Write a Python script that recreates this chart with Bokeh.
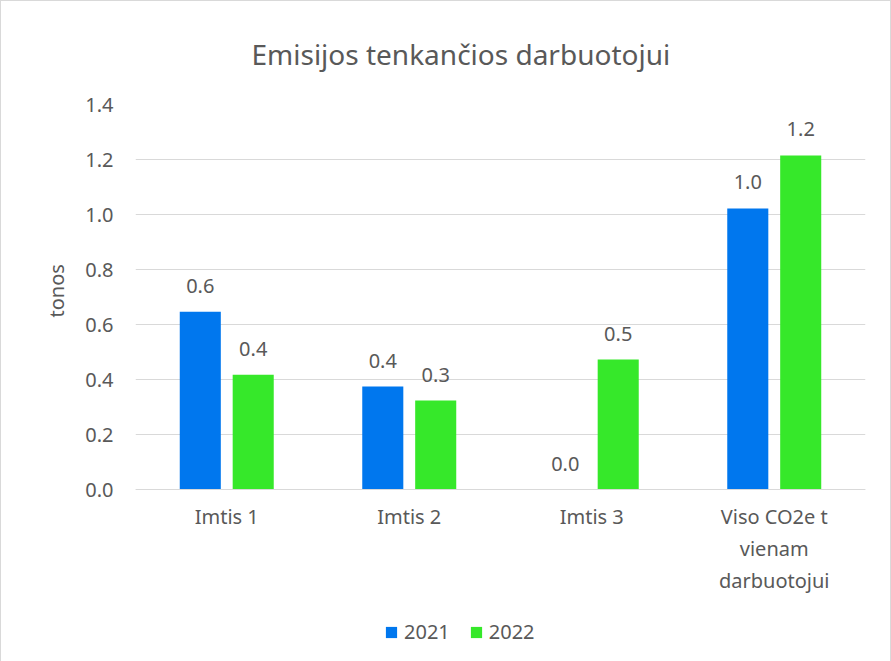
from bokeh.plotting import figure
from bokeh.models import ColumnDataSource, FactorRange, Legend, LegendItem, PrintfTickFormatter, LabelSet, Range1d, Title
from bokeh.core.properties import value
from bokeh.transform import dodge
from bokeh.embed import file_html
from bokeh.resources import INLINE

categories = ["Imtis 1", "Imtis 2", "Imtis 3", "Viso CO2e t\nvienam\ndarbuotojui"]
years = ["2021", "2022"]
values_2021 = [0.647, 0.375, 0.0, 1.022]
values_2022 = [0.418, 0.324, 0.473, 1.215]
y_ticks = [0.0, 0.2, 0.4, 0.6, 0.8, 1.0, 1.2, 1.4]

FONT = "Noto Sans"
GRAY = "#595959"
BLUE = "#0077EE"
GREEN = "#36E82A"
FS = "20px"

src = ColumnDataSource(dict(
    cat=categories,
    v2021=values_2021,
    v2022=values_2022,
    l2021=["%.1f" % v for v in values_2021],
    l2022=["%.1f" % v for v in values_2022],
))

# the frame reaches below zero so the legend can sit inside it, under the category labels
p = figure(x_range=FactorRange(factors=categories, range_padding=0),
           y_range=Range1d(-0.65, 1.4),
           frame_width=730, frame_height=564, output_backend="svg", toolbar_location=None,
           min_border_left=134, min_border_right=25, min_border_top=103, min_border_bottom=0)
p.styles = {"border": "1px solid #d9d9d9"}
p.outline_line_color = None
p.background_fill_color = "white"
p.border_fill_color = "white"

p.title.text = "Emisijos tenkančios darbuotojui"
p.title.align = "left"
p.title.offset = 116
p.title.text_font = FONT
p.title.text_font_size = "28px"
p.title.text_font_style = "normal"
p.title.text_color = GRAY
p.title.standoff = 63

r1 = p.vbar(x=dodge("cat", -0.145, range=p.x_range), top="v2021", width=0.225, source=src,
            fill_color=BLUE, line_color=None)
r2 = p.vbar(x=dodge("cat", 0.145, range=p.x_range), top="v2022", width=0.225, source=src,
            fill_color=GREEN, line_color=None)

for col, lab, off in (("v2021", "l2021", -0.145), ("v2022", "l2022", 0.145)):
    p.add_layout(LabelSet(x=dodge("cat", off, range=p.x_range), y=col, text=lab, source=src,
                          text_align="center", text_baseline="bottom", y_offset=19,
                          text_font=value(FONT), text_font_size=value(FS), text_color=GRAY))

p.yaxis.ticker = y_ticks
p.yaxis.formatter = PrintfTickFormatter(format="%.1f")
p.yaxis.axis_line_color = None
p.yaxis.major_tick_line_color = None
p.yaxis.major_tick_out = 0
p.yaxis.minor_tick_line_color = None
p.yaxis.major_label_standoff = 22
p.yaxis.major_label_text_font = FONT
p.yaxis.major_label_text_font_size = FS
p.yaxis.major_label_text_color = GRAY

ylab = Title(text="tonos", align="left", offset=351, standoff=25,
             text_font=FONT, text_font_size=FS, text_font_style="normal", text_color=GRAY)
p.add_layout(ylab, "left")

p.xaxis.fixed_location = 0
p.xaxis.axis_line_color = "#d9d9d9"
p.xaxis.major_tick_line_color = None
p.xaxis.major_tick_out = 0
p.xaxis.minor_tick_line_color = None
p.xaxis.major_label_standoff = 13
p.xaxis.major_label_text_font = FONT
p.xaxis.major_label_text_font_size = FS
p.xaxis.major_label_text_color = GRAY

p.xgrid.grid_line_color = None
p.ygrid.grid_line_color = "#d9d9d9"

legend = Legend(items=[LegendItem(label=years[0], renderers=[r1]),
                       LegendItem(label=years[1], renderers=[r2])],
                orientation="horizontal", location=(249, 23),
                label_text_font=FONT, label_text_font_size=FS, label_text_color=GRAY,
                glyph_width=14, glyph_height=14, label_standoff=6, spacing=19,
                border_line_color=None, background_fill_alpha=0,
                margin=0, padding=5)
p.add_layout(legend, "center")

open("out.html", "w").write(file_html(p, INLINE))
